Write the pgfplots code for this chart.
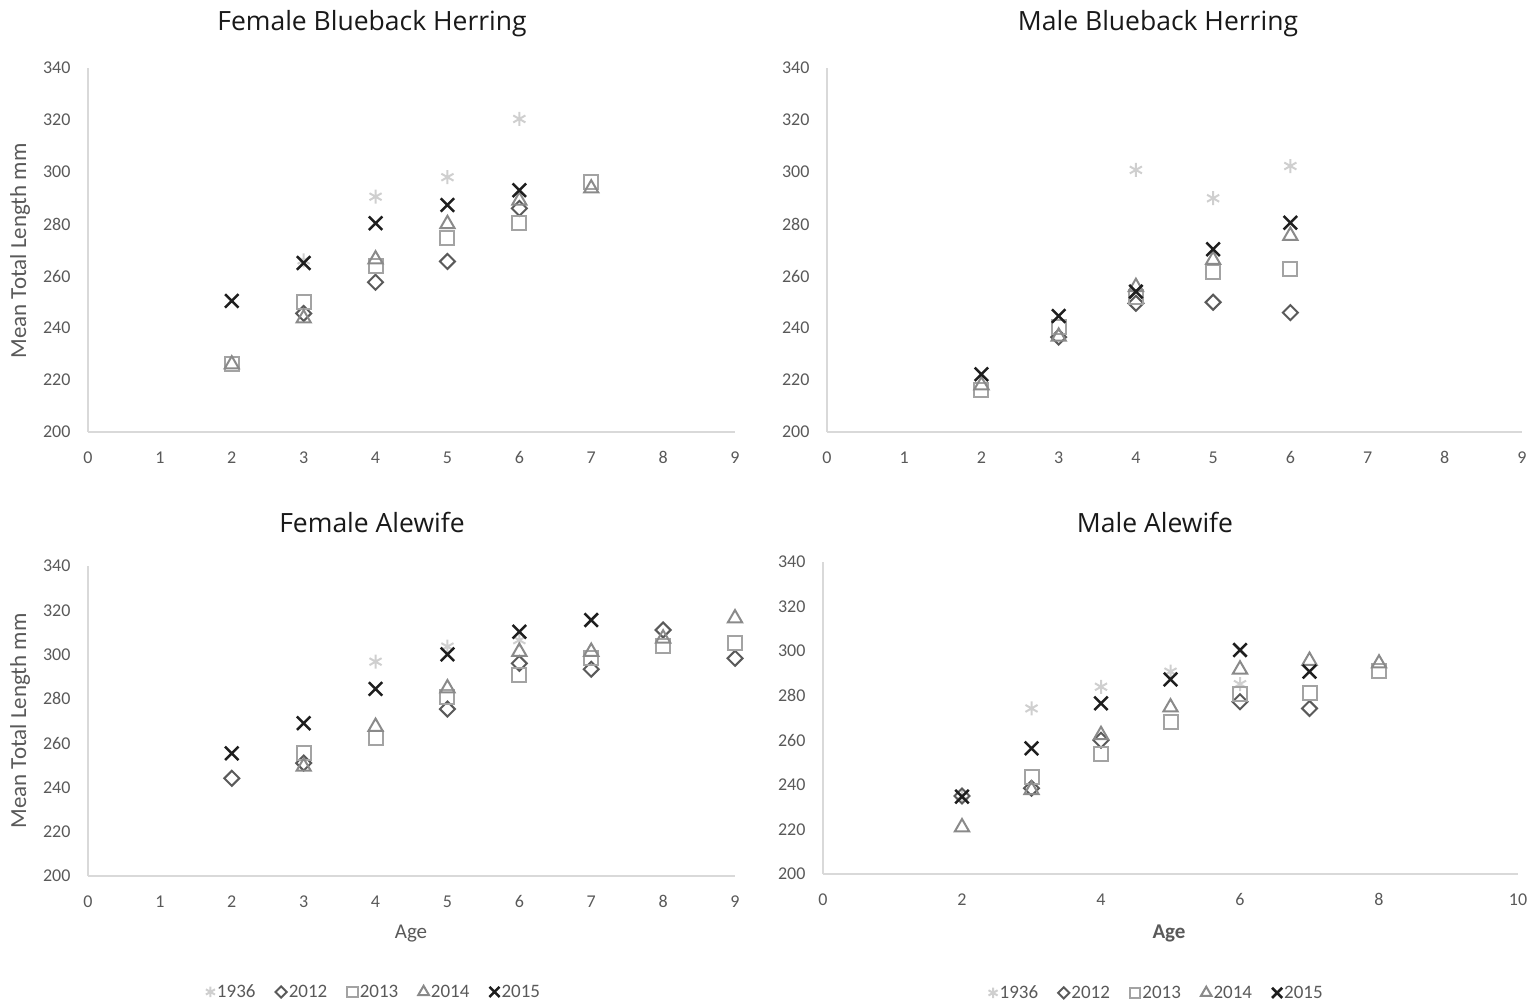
\documentclass[border=0pt]{standalone}
\usepackage{pgfplots}
\pgfplotsset{compat=1.18}
\usepackage{fontspec}
\setmainfont{Carlito}
\newfontfamily\titlefont{Open Sans}
\definecolor{axgray}{HTML}{D9D9D9}
\definecolor{txtgray}{HTML}{595959}
\definecolor{c1936}{HTML}{CFCFCF}
\definecolor{c2012}{HTML}{5A5A5A}
\definecolor{c2013}{HTML}{A3A3A3}
\definecolor{c2014}{HTML}{8A8A8A}
\definecolor{c2015}{HTML}{1E1E1E}
\pgfplotsset{
  panel/.style={
    scale only axis,
    anchor=south west,
    axis lines*=left,
    axis line style={axgray, line width=1.3pt, -},
    ymin=200, ymax=340, ytick={200,220,...,340},
    major tick length=0pt,
    tick style={draw=none},
    /pgf/number format/assume math mode=true,
    ticklabel style={font=\fontsize{18}{21}\selectfont, text=txtgray},
    yticklabel style={xshift=-14pt},
    xticklabel style={yshift=-16pt},
    clip=false,
  },
  s1936/.style={only marks, mark=asterisk, mark size=7pt, mark options={c1936, line width=2pt}},
  s2012/.style={only marks, mark=square, mark size=5.3pt, mark options={c2012, line width=2pt, fill=none, rotate=45}},
  s2013/.style={only marks, mark=square, mark size=7pt, mark options={c2013, line width=2pt, fill=none}},
  s2014/.style={only marks, mark=triangle, mark size=8.2pt, mark options={c2014, line width=2pt, fill=none}},
  s2015/.style={only marks, mark=x, mark size=9.5pt, mark options={c2015, line width=2.5pt}},
  leg/.style={
    legend columns=5,
    legend image post style={scale=0.75},
    legend style={draw=none, fill=none, font=\fontsize{19}{22}\selectfont, text=txtgray,
      /tikz/every even column/.append style={column sep=18pt},
      legend cell align=left, anchor=center},
  },
}
\begin{document}
\begin{tikzpicture}[x=1pt,y=1pt]
\useasboundingbox (0pt,0pt) rectangle (1533pt,1006pt);

% Female Blueback Herring
\begin{axis}[panel, at={(88pt,574pt)}, width=647pt, height=364pt,
  xmin=0, xmax=9, xtick={0,...,9}]
\addplot[s1936] coordinates {(3,266) (4,290.5) (5,298) (6,320.4)};
\addplot[s2012] coordinates {(3,245.6) (4,257.6) (5,265.6) (6,286)};
\addplot[s2013] coordinates {(2,226) (3,250) (4,264) (5,274.5) (6,280.5) (7,296)};
\addplot[s2014] coordinates {(2,226) (3,243.7) (4,266.4) (5,280) (6,289) (7,293.7)};
\addplot[s2015] coordinates {(2,250.4) (3,265) (4,280.3) (5,287.3) (6,293)};
\end{axis}

% Male Blueback Herring
\begin{axis}[panel, at={(827pt,574pt)}, width=695pt, height=364pt,
  xmin=0, xmax=9, xtick={0,...,9}]
\addplot[s1936] coordinates {(4,300.8) (5,289.9) (6,302.3)};
\addplot[s2012] coordinates {(3,236.5) (4,249.5) (5,249.9) (6,245.9)};
\addplot[s2013] coordinates {(2,216.2) (3,240.5) (4,252) (5,261.7) (6,262.7)};
\addplot[s2014] coordinates {(2,218) (3,236.7) (4,255.8) (5,266.2) (6,275.5)};
\addplot[s2015] coordinates {(2,222.2) (3,244.6) (4,254) (5,270.3) (6,280.5)};
\end{axis}

% Female Alewife
\begin{axis}[panel, leg, at={(88pt,130pt)}, width=647pt, height=310pt,
  xmin=0, xmax=9, xtick={0,...,9},
  legend style={at={(0.442,-0.374)}}]
\addplot[s1936] coordinates {(4,296.8) (5,303.6) (6,306.5)};
\addplot[s2012] coordinates {(2,244.1) (3,251) (5,275.4) (6,296) (7,293.4) (8,311.1) (9,298.3)};
\addplot[s2013] coordinates {(3,255.4) (4,262.5) (5,281) (6,290.8) (7,298.3) (8,303.9) (9,305.1)};
\addplot[s2014] coordinates {(3,249.4) (4,267.4) (5,284.8) (6,301.3) (7,301.3) (8,307.3) (9,316.4)};
\addplot[s2015] coordinates {(2,255.4) (3,269) (4,284.5) (5,300.1) (6,310.3) (7,315.6)};
\legend{1936,2012,2013,2014,2015}
\end{axis}

% Male Alewife
\begin{axis}[panel, leg, at={(823pt,132pt)}, width=695pt, height=312pt,
  xmin=0, xmax=10, xtick={0,2,...,10},
  legend style={at={(0.48,-0.381)}}]
\addplot[s1936] coordinates {(2,235) (3,274.3) (4,284) (5,290.8) (6,285.2)};
\addplot[s2012] coordinates {(2,235) (3,238.5) (4,260) (6,277.3) (7,274.3)};
\addplot[s2013] coordinates {(3,243.7) (4,253.8) (5,268.3) (6,280.8) (7,281.3) (8,291.2)};
\addplot[s2014] coordinates {(2,221) (3,237.7) (4,262.4) (5,274.8) (6,291.8) (7,295.7) (8,294.5)};
\addplot[s2015] coordinates {(2,234.7) (3,256.4) (4,276.6) (5,287.3) (6,300.5) (7,290.8)};
\legend{1936,2012,2013,2014,2015}
\end{axis}

% titles and labels
\node[font=\titlefont\fontsize{26.5}{30}\selectfont, text=black!90] at (372pt,982pt) {Female Blueback Herring};
\node[font=\titlefont\fontsize{26.5}{30}\selectfont, text=black!90] at (1158pt,982pt) {Male Blueback Herring};
\node[font=\titlefont\fontsize{26.5}{30}\selectfont, text=black!90] at (372pt,484pt) {Female Alewife};
\node[font=\titlefont\fontsize{26.5}{30}\selectfont, text=black!90] at (1155pt,484pt) {Male Alewife};
\node[rotate=90, font=\fontsize{23}{26}\selectfont, text=txtgray] at (20pt,755pt) {Mean Total Length mm};
\node[rotate=90, font=\fontsize{23}{26}\selectfont, text=txtgray] at (20pt,285pt) {Mean Total Length mm};
\node[font=\fontsize{21}{24}\selectfont, text=txtgray] at (411pt,72pt) {Age};
\node[font=\bfseries\fontsize{21}{24}\selectfont, text=txtgray] at (1169pt,73pt) {Age};
\end{tikzpicture}
\end{document}
